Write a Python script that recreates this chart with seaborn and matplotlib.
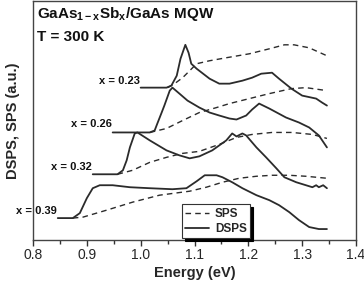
import numpy as np
import pandas as pd
import matplotlib
matplotlib.use("Agg")
import matplotlib.pyplot as plt
from matplotlib.lines import Line2D
from matplotlib.ticker import MultipleLocator
import seaborn as sns

# x = 0.23
e_dsps_023 = [1.0, 1.048, 1.057, 1.067, 1.074, 1.083, 1.089, 1.094, 1.104, 1.128, 1.146, 1.165,
              1.189, 1.207, 1.224, 1.244, 1.257, 1.280, 1.300, 1.326, 1.337, 1.346]
dsps_023 = [7.65, 7.65, 7.75, 8.25, 9.1, 9.8, 9.4, 8.85, 8.6, 8.1, 7.85, 7.85,
            8.0, 8.15, 8.35, 8.4, 8.1, 7.6, 7.25, 7.1, 6.9, 6.75]
e_sps_023 = [1.05, 1.063, 1.078, 1.091, 1.104, 1.128, 1.159, 1.202, 1.239, 1.267, 1.285, 1.313, 1.346]
sps_023 = [7.65, 7.85, 8.15, 8.5, 8.85, 9.0, 9.15, 9.35, 9.6, 9.8, 9.8, 9.65, 9.25]

# x = 0.26
e_dsps_026 = [0.948, 1.017, 1.026, 1.031, 1.039, 1.044, 1.054, 1.059, 1.072, 1.087, 1.109, 1.128,
              1.146, 1.165, 1.178, 1.196, 1.207, 1.220, 1.239, 1.270, 1.294, 1.313, 1.331, 1.346]
dsps_026 = [5.4, 5.4, 5.5, 5.85, 6.4, 6.75, 7.5, 7.65, 7.35, 7.0, 6.65, 6.4,
            6.25, 6.1, 6.05, 6.25, 6.55, 6.85, 6.6, 6.15, 5.9, 5.65, 5.25, 4.65]
e_sps_026 = [1.017, 1.048, 1.078, 1.109, 1.141, 1.165, 1.202, 1.239, 1.280, 1.307, 1.346]
sps_026 = [5.4, 5.6, 6.0, 6.4, 6.65, 6.85, 7.1, 7.35, 7.6, 7.65, 7.5]

# x = 0.32
e_dsps_032 = [0.911, 0.957, 0.967, 0.974, 0.980, 0.989, 0.994, 1.017, 1.048, 1.072, 1.091, 1.109,
              1.133, 1.146, 1.159, 1.170, 1.178, 1.189, 1.196, 1.215, 1.233, 1.252, 1.267, 1.289,
              1.307, 1.319, 1.326, 1.331, 1.339, 1.346]
dsps_032 = [3.3, 3.3, 3.5, 4.0, 4.65, 5.35, 5.4, 5.0, 4.5, 4.25, 4.1, 4.2,
            4.5, 4.75, 5.0, 5.35, 5.2, 5.35, 5.25, 4.65, 4.15, 3.6, 3.15, 2.9,
            2.75, 2.65, 2.75, 2.65, 2.75, 2.6]
e_sps_032 = [0.957, 0.985, 1.017, 1.048, 1.078, 1.109, 1.146, 1.178, 1.207, 1.244, 1.281, 1.319, 1.346]
sps_032 = [3.3, 3.5, 3.9, 4.15, 4.35, 4.45, 4.8, 5.15, 5.3, 5.4, 5.4, 5.3, 5.1]

# x = 0.39
e_dsps_039 = [0.846, 0.874, 0.887, 0.9, 0.911, 0.924, 0.948, 0.980, 1.017, 1.059, 1.085, 1.104,
              1.119, 1.141, 1.152, 1.170, 1.189, 1.215, 1.239, 1.257, 1.276, 1.294, 1.313, 1.331, 1.346]
dsps_039 = [1.1, 1.1, 1.35, 2.1, 2.6, 2.75, 2.75, 2.65, 2.6, 2.55, 2.6, 2.95,
            3.25, 3.25, 3.15, 2.9, 2.6, 2.25, 2.0, 1.75, 1.4, 1.0, 0.65, 0.55, 0.55]
e_sps_039 = [0.874, 0.893, 0.937, 0.985, 1.035, 1.091, 1.122, 1.152, 1.183, 1.215, 1.244, 1.276, 1.307, 1.346]
sps_039 = [1.1, 1.15, 1.5, 1.9, 2.25, 2.45, 2.65, 2.9, 3.1, 3.2, 3.25, 3.25, 3.2, 3.1]

labels = ["x = 0.23", "x = 0.26", "x = 0.32", "x = 0.39"]
label_pos = [(1.0, 8.0), (0.948, 5.8), (0.911, 3.65), (0.846, 1.45)]

sns.set_style("ticks")
plt.rcParams["font.family"] = ["Liberation Sans", "DejaVu Sans"]
plt.rcParams["mathtext.fontset"] = "custom"
plt.rcParams["mathtext.rm"] = "Liberation Sans:bold"
plt.rcParams["mathtext.it"] = "Liberation Sans:bold"
plt.rcParams["mathtext.bf"] = "Liberation Sans:bold"

fig = plt.figure(figsize=(3.64, 2.84), dpi=100)
ax = fig.add_axes([33 / 364, 44 / 284, 323 / 364, 239 / 284])

col = "#2b2b2b"
series = [
    (e_dsps_023, dsps_023, e_sps_023, sps_023),
    (e_dsps_026, dsps_026, e_sps_026, sps_026),
    (e_dsps_032, dsps_032, e_sps_032, sps_032),
    (e_dsps_039, dsps_039, e_sps_039, sps_039),
]
for ed, d, es, s in series:
    sns.lineplot(x=ed, y=d, ax=ax, color=col, lw=1.3, sort=False, estimator=None)
    sns.lineplot(x=es, y=s, ax=ax, color=col, lw=1.0, sort=False, estimator=None,
                 linestyle=(0, (4, 3)))

for lab, (ex, ey) in zip(labels, label_pos):
    ax.text(ex - 0.002, ey, lab, ha="right", va="center", fontsize=8, fontweight="bold", color="#111")

ax.text(0.808, 11.35, r"GaAs$_{1-x}$Sb$_x$/GaAs MQW", fontsize=11, fontweight="bold",
        ha="left", va="center", color="#111")
ax.text(0.808, 10.2, "T = 300 K", fontsize=11, fontweight="bold", ha="left", va="center", color="#111")

ax.set_xlim(0.8, 1.4)
ax.set_ylim(0, 12)
ax.xaxis.set_major_locator(MultipleLocator(0.1))
ax.xaxis.set_minor_locator(MultipleLocator(0.05))
ax.set_xticks([0.8, 0.9, 1.0, 1.1, 1.2, 1.3, 1.4])
ax.set_xticklabels(["0.8", "0.9", "1.0", "1.1", "1.2", "1.3", "1.4"])
ax.set_yticks([])
ax.tick_params(axis="x", which="major", length=4, width=1, labelsize=10, pad=2, color="#333")
ax.tick_params(axis="x", which="minor", length=3, width=1, color="#333")
for sp in ax.spines.values():
    sp.set_color("#444")
    sp.set_linewidth(1.0)

ax.set_xlabel("Energy (eV)", fontsize=10.5, fontweight="bold", labelpad=3)
ax.set_ylabel("DSPS, SPS (a.u.)", fontsize=10.5, fontweight="bold", labelpad=9)

handles = [Line2D([], [], color=col, lw=1.0, linestyle=(0, (4, 3))),
           Line2D([], [], color=col, lw=1.3)]
leg = ax.legend(handles, ["SPS", "DSPS"], loc="upper left", bbox_to_anchor=(0.461, 0.15),
                prop={"weight": "bold", "size": 8.5}, frameon=True, fancybox=False,
                shadow={"color": "black", "alpha": 1}, borderaxespad=0, handlelength=2.0,
                handletextpad=0.5, labelspacing=0.25, borderpad=0.3)
leg.get_frame().set_edgecolor("#333")
leg.get_frame().set_linewidth(0.8)

fig.savefig("out.png", dpi=100)
